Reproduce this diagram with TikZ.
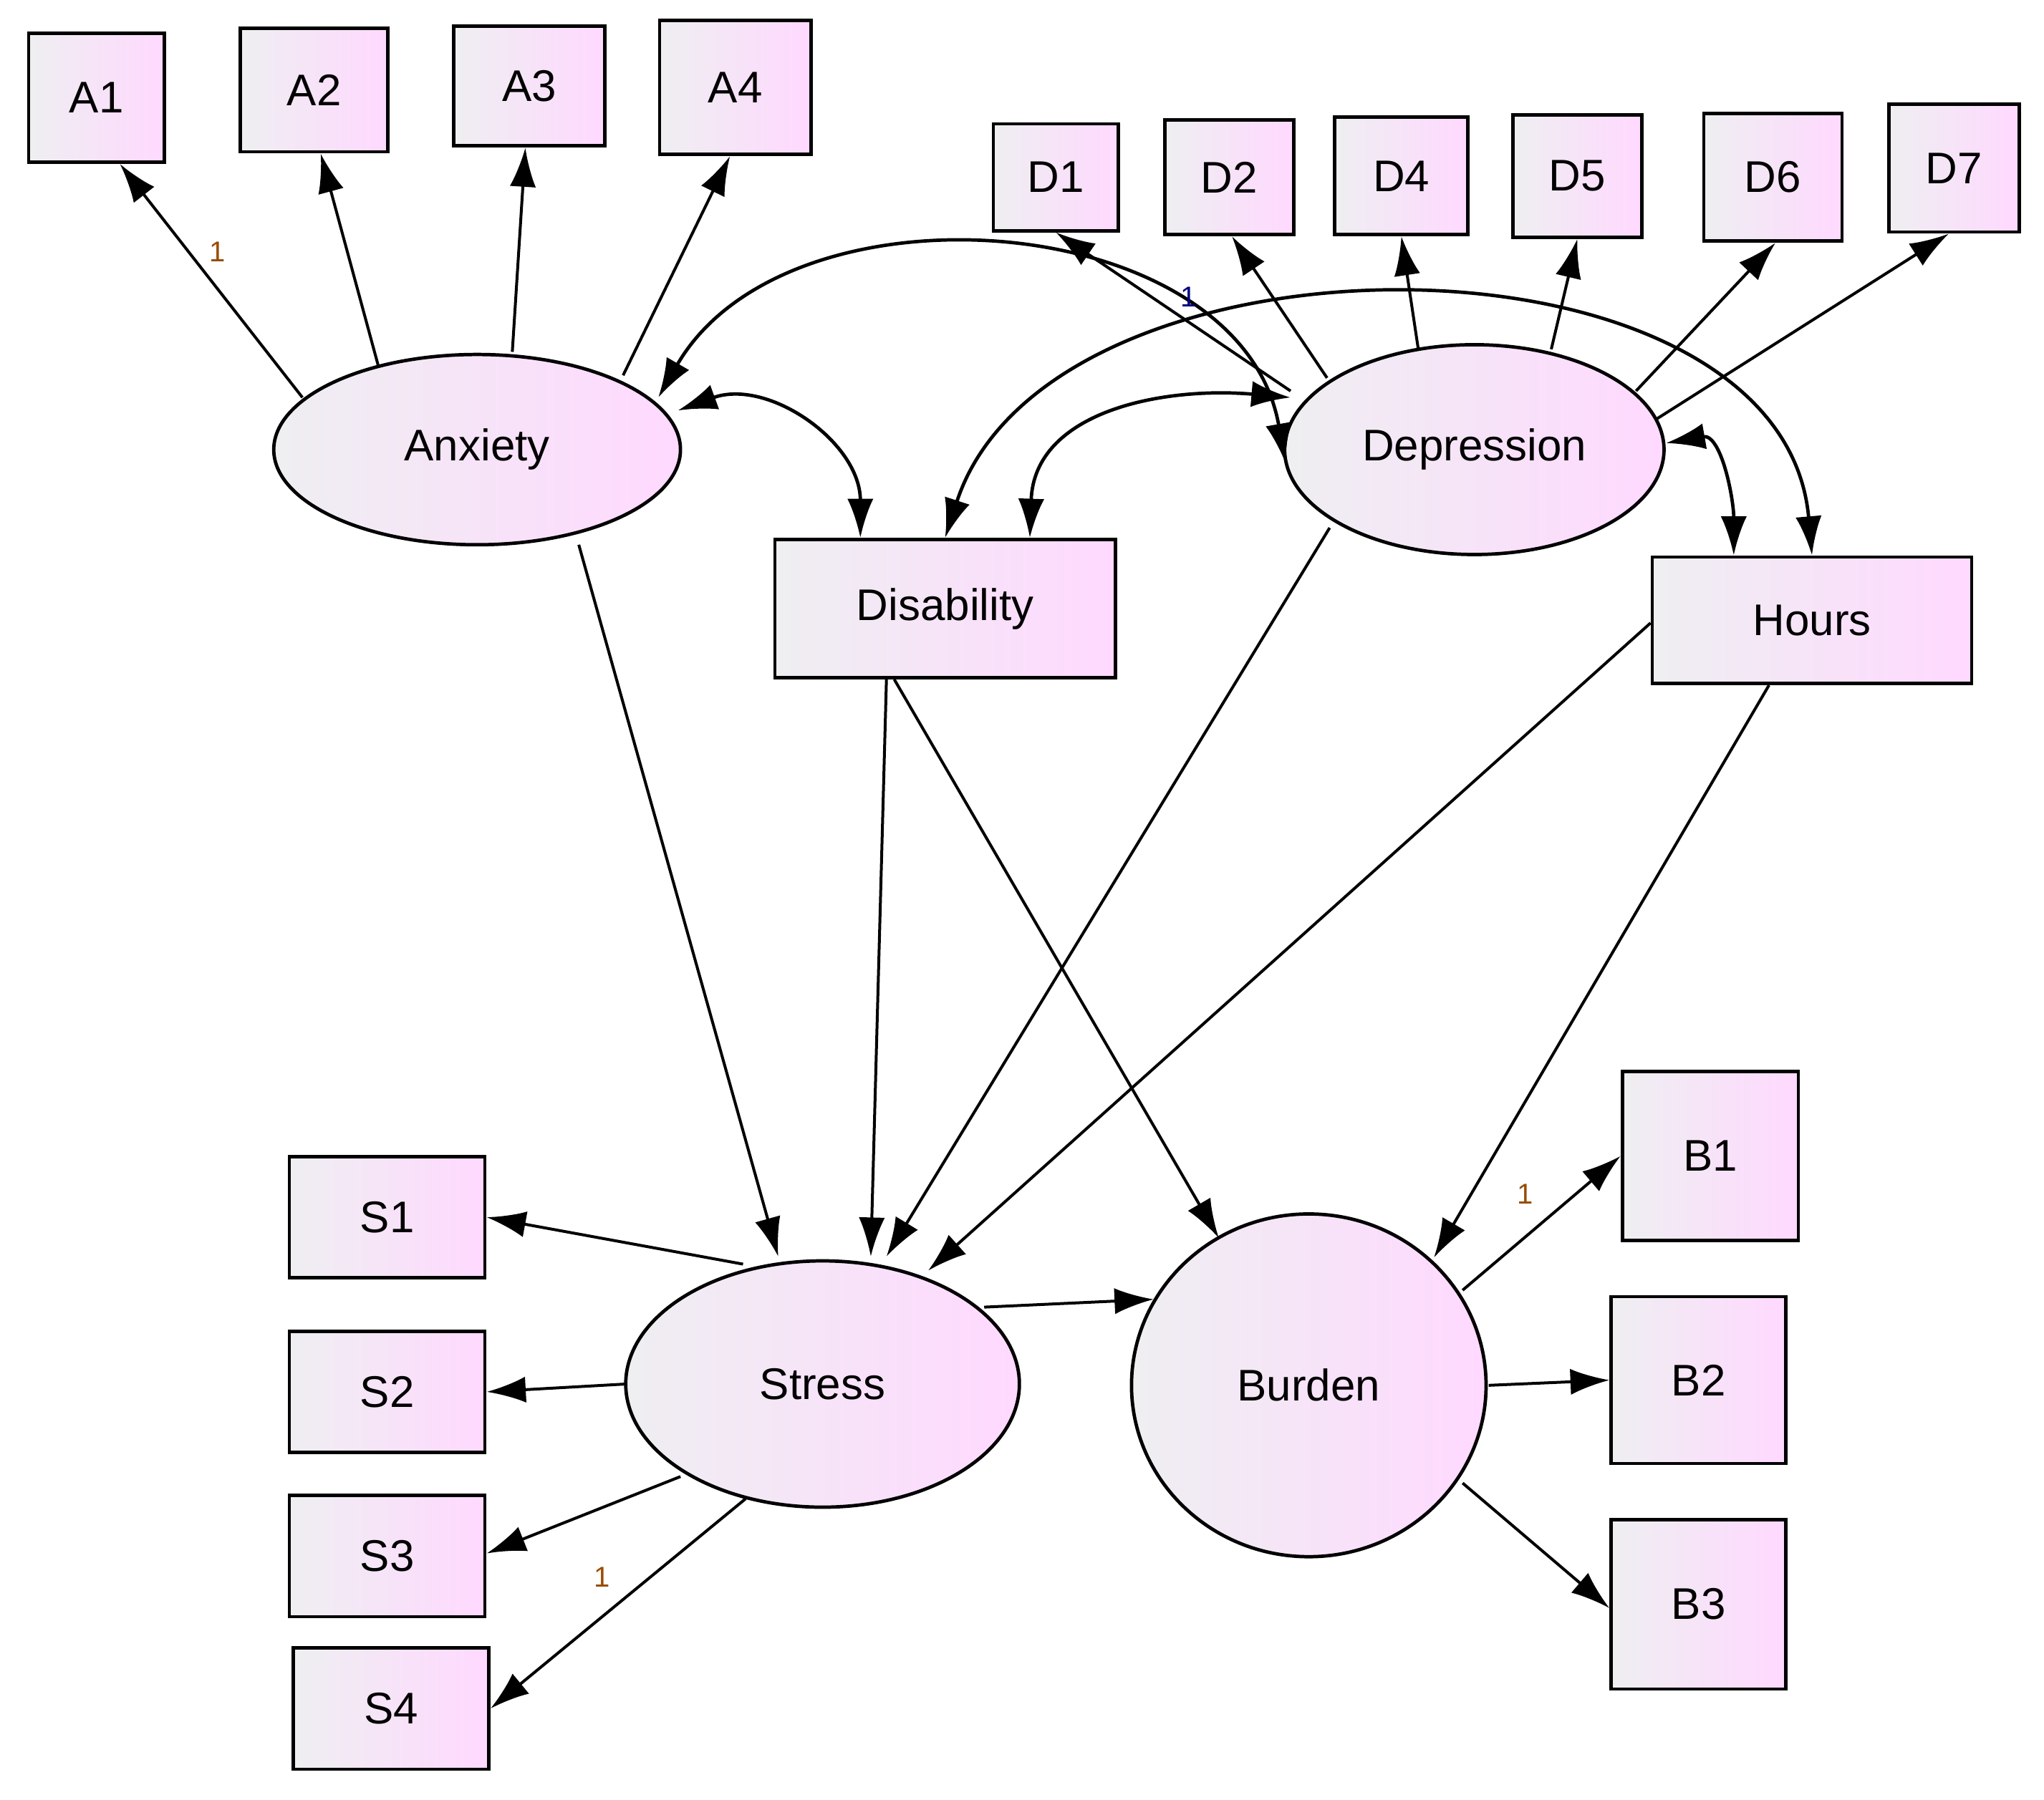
\documentclass[tikz,border=0pt]{standalone}
\usepackage{fontspec}
\setmainfont{Liberation Sans}
\usetikzlibrary{shapes.geometric,arrows.meta,calc}
\begin{document}
\begin{tikzpicture}[x=0.5pt,y=-0.5pt,
  base/.style={draw=black,line width=1.3pt,left color=blue!8!gray!12,right color=magenta!15,inner sep=0pt,font=\fontsize{17}{17}\selectfont},
  obs/.style={base,rectangle},
  lat/.style={base,ellipse},
  arr/.style={line width=1.1pt,-{Latex[length=15pt,width=10pt]}},
  cov/.style={line width=1.3pt,{Latex[length=15pt,width=10pt]}-{Latex[length=15pt,width=10pt]}},
  one/.style={font=\fontsize{11}{11}\selectfont,text=orange!60!black}]
\useasboundingbox (0,0) rectangle (1568,1381);
\node[obs,minimum width=52pt,minimum height=49.5pt] (a1) at (74,75) {A1};
\node[obs,minimum width=56.5pt,minimum height=47.5pt] (a2) at (241,69) {A2};
\node[obs,minimum width=58pt,minimum height=46pt] (a3) at (406,66) {A3};
\node[obs,minimum width=58pt,minimum height=51.5pt] (a4) at (564,67) {A4};
\node[obs,minimum width=48pt,minimum height=41pt] (d1) at (810,136) {D1};
\node[obs,minimum width=49.5pt,minimum height=44pt] (d2) at (943,136) {D2};
\node[obs,minimum width=51pt,minimum height=45pt] (d4) at (1075,135) {D4};
\node[obs,minimum width=49.5pt,minimum height=47pt] (d5) at (1210,135) {D5};
\node[obs,minimum width=53pt,minimum height=49pt] (d6) at (1360,136) {D6};
\node[obs,minimum width=50pt,minimum height=49pt] (d7) at (1499,129) {D7};
\node[lat,minimum width=156pt,minimum height=73pt] (anx) at (366,345) {Anxiety};
\node[lat,minimum width=145.5pt,minimum height=80.5pt] (dep) at (1131,345) {Depression};
\node[obs,minimum width=130.5pt,minimum height=53pt] (dis) at (725,467) {Disability};
\node[obs,minimum width=122.5pt,minimum height=48.5pt] (hrs) at (1390,476) {Hours};
\node[lat,minimum width=151pt,minimum height=94.5pt] (str) at (631,1062) {Stress};
\node[lat,minimum width=136pt,minimum height=131.5pt] (bur) at (1004,1063) {Burden};
\node[obs,minimum width=75pt,minimum height=46.5pt] (s1) at (297,934) {S1};
\node[obs,minimum width=75pt,minimum height=46.5pt] (s2) at (297,1068) {S2};
\node[obs,minimum width=75pt,minimum height=46.5pt] (s3) at (297,1194) {S3};
\node[obs,minimum width=75pt,minimum height=46.5pt] (s4) at (300,1311) {S4};
\node[obs,minimum width=67.5pt,minimum height=65pt] (b1) at (1312,887) {B1};
\node[obs,minimum width=67pt,minimum height=64pt] (b2) at (1303,1059) {B2};
\node[obs,minimum width=67pt,minimum height=65pt] (b3) at (1303,1231) {B3};
% loadings
\draw[arr] ($(anx)+(-134,-40)$) -- ($(a1.south)+(18,0)$);
\draw[arr] ($(anx)+(-76,-65)$) -- ($(a2.south)+(5,0)$);
\draw[arr] ($(anx)+(27,-75)$) -- ($(a3.south)+(-3,0)$);
\draw[arr] ($(anx)+(112,-57)$) -- ($(a4.south)+(-4,0)$);
\draw[arr] ($(dep)+(-141,-45)$) -- (d1.south);
\draw[arr] ($(dep)+(-113,-55)$) -- ($(d2.south)+(2,0)$);
\draw[arr] ($(dep)+(-43,-77)$) -- (d4.south);
\draw[arr] ($(dep)+(59,-77)$) -- (d5.south);
\draw[arr] ($(dep)+(124,-45)$) -- ($(d6.south)+(2,0)$);
\draw[arr] ($(dep)+(139,-23)$) -- ($(d7.south)+(-4,0)$);
\draw[arr] ($(str)+(-61,-92)$) -- ($(s1.east)+(0,0)$);
\draw[arr] ($(str)+(-151,0)$) -- (s2.east);
\draw[arr] ($(str)+(-109,71)$) -- ($(s3.east)+(0,-2)$);
\draw[arr] ($(str)+(-59,88)$) -- (s4.east);
\draw[arr] ($(bur)+(118,-73)$) -- (b1.west);
\draw[arr] ($(bur)+(138,0)$) -- (b2.west);
\draw[arr] ($(bur)+(118,75)$) -- ($(b3.west)+(0,3)$);
% structural
\draw[arr] ($(anx)+(78,73)$) -- ($(str.north)+(-34,-2)$);
\draw[arr] ($(dis.south)+(-45,0)$) -- ($(str.north)+(37,-2)$);
\draw[arr] ($(dis.south)+(-39,0)$) -- ($(bur)+(-69,-113)$);
\draw[arr] ($(dep)+(-111,60)$) -- ($(str.north)+(49,-2)$);
\draw[arr] ($(hrs.west)+(0,2)$) -- ($(str)+(81,-87)$);
\draw[arr] ($(hrs.south)+(-33,0)$) -- ($(bur)+(96,-98)$);
\draw[arr] ($(str)+(124,-59)$) -- ($(bur)+(-119,-66)$);
% covariances
\draw[cov] ($(anx)+(139,-40)$) to[out=60,in=100,looseness=1.05] ($(dep)+(-145,10)$);
\draw[cov] ($(anx)+(154,-30)$) to[out=20,in=90,looseness=1.1] ($(dis.north)+(-65,0)$);
\draw[cov] (dis.north) to[out=72,in=95,looseness=1.0] (hrs.north);
\draw[cov] ($(dis.north)+(65,0)$) to[out=88,in=175,looseness=1.1] ($(dep)+(-141,-40)$);
\draw[cov] ($(dep)+(147,-5)$) to[out=10,in=90,looseness=1.1] ($(hrs.north)+(-60,0)$);
% labels
\node[one] (l1) at (167,193) {1};
\node[one,text=blue!50!black] (l2) at (912,228) {1};
\node[one] (l3) at (1170,916) {1};
\node[one] (l4) at (462,1210) {1};
\end{tikzpicture}
\end{document}
